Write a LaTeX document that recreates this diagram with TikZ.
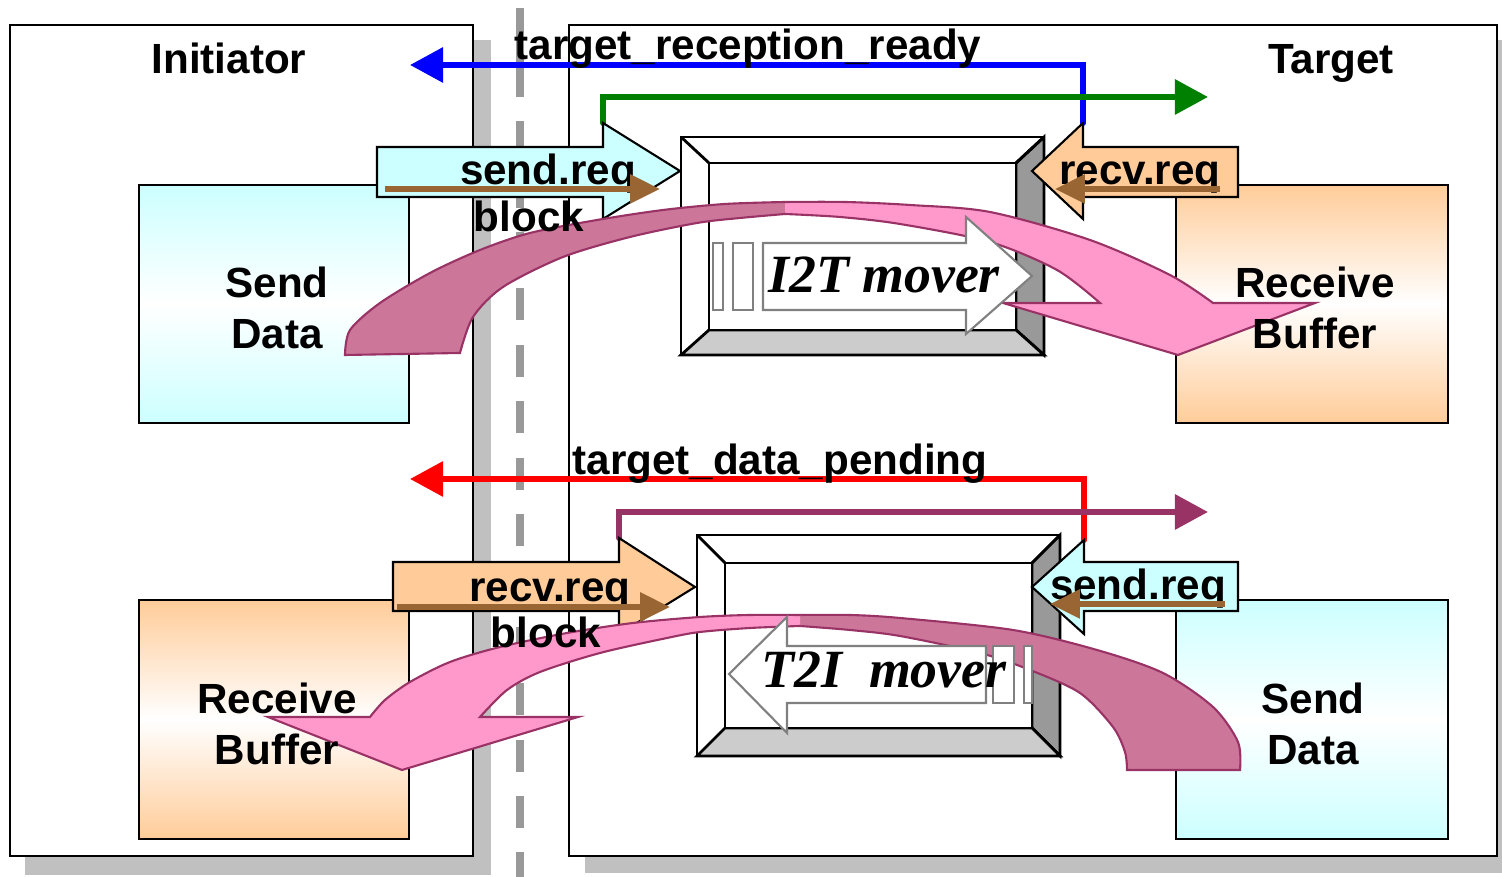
\documentclass[tikz,border=0pt]{standalone}
\usepackage{fontspec}
\setmainfont{Liberation Sans}
\newfontfamily\moverfont{Liberation Serif}
\usetikzlibrary{arrows.meta}

\definecolor{cyanfill}{HTML}{CCFFFF}
\definecolor{peachfill}{HTML}{FFCC99}
\definecolor{brownarr}{HTML}{996633}
\definecolor{pinklight}{HTML}{FF99CC}
\definecolor{pinkdark}{HTML}{CC7799}
\definecolor{pinkline}{HTML}{993366}
\definecolor{shadowgray}{HTML}{C0C0C0}
\definecolor{bevelgray}{HTML}{999999}
\definecolor{bevellight}{HTML}{CCCCCC}
\definecolor{movergray}{HTML}{808080}
\definecolor{siggreen}{HTML}{008000}
\definecolor{sigpurple}{HTML}{993366}

\begin{document}
\begin{tikzpicture}[x=0.01cm, y=-0.01cm,
  lbl/.style={font=\fontsize{12}{14.5}\selectfont\bfseries, inner sep=0pt},
  movertxt/.style={font=\moverfont\fontsize{15.3}{18}\selectfont\bfseries\itshape, inner sep=0pt},
  panel/.style={draw=black, fill=white, line width=0.7pt},
  panelshadow/.style={fill=shadowgray},
  centerline/.style={draw=bevelgray, line width=2.3pt},
  bevel/.style={draw=black, line width=0.8pt, line join=miter},
  reqarrow/.style={draw=black, line width=0.6pt},
  sigline/.style={line width=1.7pt, line cap=round, -{Triangle[length=9.4pt,width=9.7pt]}},
  brownline/.style={draw=brownarr, line width=1.5pt, -{Triangle[length=8.5pt,width=8pt]}},
  moverarrow/.style={draw=movergray, fill=white, line width=0.6pt},
  pinkband/.style={draw=pinkline, line width=0.6pt},
  cyanbox/.style={draw=black, line width=0.6pt, top color=cyanfill, bottom color=cyanfill, middle color=white},
  peachbox/.style={draw=black, line width=0.6pt, top color=peachfill, bottom color=peachfill, middle color=white}]
\useasboundingbox (0,0) rectangle (1502,877);

% Shadows and the dividing line
\fill[panelshadow] (25,40) rectangle (491,875);
\fill[panelshadow] (585,40) rectangle (1502,873);
\draw[centerline] (520,8) -- (520,97);
\draw[centerline] (520,121) -- (520,208);
\draw[centerline, dash pattern=on 9.1pt off 6.94pt] (520,232) -- (520,877);

% Initiator and target panels
\draw[panel] (10,25) rectangle (473,856);
\draw[panel] (569,25) rectangle (1497,856);
\node[lbl, anchor=base] (initlbl) at (229,74) {Initiator};
\node[lbl, anchor=base] (targlbl) at (1331,74) {Target};

% Buffers
\draw[cyanbox] (139,185) rectangle (409,423);
\draw[peachbox] (1176,185) rectangle (1448,423);
\draw[peachbox] (139,600) rectangle (409,839);
\draw[cyanbox] (1176,600) rectangle (1448,839);

% I2T mover frame
\draw[bevel, fill=white] (681,137) rectangle (1044,355);
\draw[bevel, fill=bevelgray] (1044,137) -- (1044,355) -- (1016,330) -- (1016,163) -- cycle;
\draw[bevel, fill=bevellight] (681,355) -- (1044,355) -- (1016,330) -- (709,330) -- cycle;
\draw[bevel] (681,137) -- (709,163) (1044,137) -- (1016,163);
\draw[bevel, fill=white] (709,163) rectangle (1016,330);

% T2I mover frame
\draw[bevel, fill=white] (697,535) rectangle (1060,756);
\draw[bevel, fill=bevelgray] (1060,535) -- (1060,756) -- (1032,728) -- (1032,563) -- cycle;
\draw[bevel, fill=bevellight] (697,756) -- (1060,756) -- (1032,728) -- (725,728) -- cycle;
\draw[bevel] (697,535) -- (725,563) (1060,535) -- (1032,563);
\draw[bevel, fill=white] (725,563) rectangle (1032,728);

% Handshake lines
\coordinate (sreqhd) at (603,123);
\coordinate (rreqhd) at (1083,123);
\coordinate (rreqbhd) at (619,538);
\coordinate (sreqbhd) at (1084,540);
\coordinate (readyend) at (410,65);
\coordinate (sendend) at (1208,97);
\coordinate (pendend) at (410,479);
\coordinate (recvend) at (1208,512);
\draw[sigline, blue] (rreqhd) |- (readyend);
\draw[sigline, siggreen] (sreqhd) |- (sendend);
\draw[sigline, red] (sreqbhd) |- (pendend);
\draw[sigline, sigpurple] (rreqbhd) |- (recvend);
\node[lbl, anchor=base] (readylbl) at (748,60) {target\_reception\_ready};
\node[lbl, anchor=base] (pendlbl) at (780,475) {target\_data\_pending};

% Request arrows
\draw[reqarrow, fill=cyanfill] (377,147) -- (603,147) -- (sreqhd) -- (680,171) -- (603,219) -- (603,197) -- (377,197) -- cycle;
\draw[reqarrow, fill=peachfill] (1238,147) -- (1083,147) -- (rreqhd) -- (1032,171) -- (1083,219) -- (1083,197) -- (1238,197) -- cycle;
\draw[reqarrow, fill=peachfill] (393,562) -- (619,562) -- (rreqbhd) -- (695,587) -- (619,634) -- (619,611) -- (393,611) -- cycle;
\draw[reqarrow, fill=cyanfill] (1238,562) -- (1084,562) -- (sreqbhd) -- (1032,587) -- (1084,634) -- (1084,611) -- (1238,611) -- cycle;
\node[lbl, anchor=base] (sreqlbl) at (548,185) {send.req};
\node[lbl, anchor=base] (rreqlbl) at (1140,185) {recv.req};
\node[lbl, anchor=base] (rreqblbl) at (550,602) {recv.req};
\node[lbl, anchor=base] (sreqblbl) at (1138,600) {send.req};

% Data transfer (top)
\path[fill=pinkdark] plot[smooth] coordinates {(785,214) (740,218) (697,223) (630,237) (563,257) (503,287) (473,317) (460,353)} -- (345,355) -- plot[smooth] coordinates {(345,355) (350,330) (380,303) (430,273) (480,250) (530,233) (597,220) (663,210) (725,204) (785,202)};
\draw[pinkband] plot[smooth] coordinates {(785,214) (740,218) (697,223) (630,237) (563,257) (503,287) (473,317) (460,353)} -- (345,355) -- plot[smooth] coordinates {(345,355) (350,330) (380,303) (430,273) (480,250) (530,233) (597,220) (663,210) (725,204) (785,202)};
\path[fill=pinklight] plot[smooth] coordinates {(785,202) (845,202) (910,205) (990,212) (1090,240) (1170,275) (1213,303)} -- (1315,303) -- (1178,355) -- (1003,303) -- plot[smooth] coordinates {(1100,303) (1057,270) (990,242) (900,224) (840,217) (785,214)};
\draw[pinkband] plot[smooth] coordinates {(785,202) (845,202) (910,205) (990,212) (1090,240) (1170,275) (1213,303)} -- (1315,303) -- (1178,355) -- (1003,303) -- plot[smooth] coordinates {(1100,303) (1057,270) (990,242) (900,224) (840,217) (785,214)};

% Data transfer (bottom)
\path[fill=pinkdark] plot[smooth] coordinates {(800,626) (850,630) (900,636) (980,653) (1030,670) (1080,693) (1113,727) (1125,752) (1127,770)} -- (1240,770) -- plot[smooth] coordinates {(1240,770) (1238,742) (1213,707) (1163,673) (1097,650) (1013,630) (900,618) (850,615) (800,615)};
\draw[pinkband] plot[smooth] coordinates {(800,626) (850,630) (900,636) (980,653) (1030,670) (1080,693) (1113,727) (1125,752) (1127,770)} -- (1240,770) -- plot[smooth] coordinates {(1240,770) (1238,742) (1213,707) (1163,673) (1097,650) (1013,630) (900,618) (850,615) (800,615)};
\path[fill=pinklight] plot[smooth] coordinates {(800,615) (750,615) (700,617) (633,623) (567,633) (500,647) (450,662) (410,682) (385,700) (370,717)} -- (268,717) -- (402,770) -- (578,717) -- plot[smooth] coordinates {(480,717) (507,690) (540,672) (600,653) (667,638) (700,632) (750,628) (800,626)};
\draw[pinkband] plot[smooth] coordinates {(800,615) (750,615) (700,617) (633,623) (567,633) (500,647) (450,662) (410,682) (385,700) (370,717)} -- (268,717) -- (402,770) -- (578,717) -- plot[smooth] coordinates {(480,717) (507,690) (540,672) (600,653) (667,638) (700,632) (750,628) (800,626)};

% Blocking calls
\draw[brownline] (385,189) -- (660,189);
\draw[brownline] (1220,189) -- (1055,189);
\draw[brownline] (397,607) -- (670,607);
\draw[brownline] (1225,604) -- (1050,604);
\node[lbl, anchor=base] (blk1) at (529,232) {block};
\node[lbl, anchor=base] (blk2) at (546,648) {block};

% Movers
\draw[moverarrow] (713,243) rectangle (723,310);
\draw[moverarrow] (733,243) rectangle (753,310);
\draw[moverarrow] (763,243) -- (966,243) -- (966,217) -- (1032,276) -- (966,334) -- (966,310) -- (763,310) -- cycle;
\node[movertxt, anchor=base] (i2t) at (884,293) {I2T mover};
\draw[moverarrow] (993,646) rectangle (1014,703);
\draw[moverarrow] (1024,646) rectangle (1032,703);
\draw[moverarrow] (986,646) -- (787,646) -- (787,617) -- (729,674) -- (787,733) -- (787,703) -- (986,703) -- cycle;
\node[movertxt, anchor=base] (t2i) at (884,688) {T2I\ \ mover};

% Buffer labels
\node[lbl, align=center] (sdata1) at (277,308) {Send\\Data};
\node[lbl, align=center] (rbuf1) at (1315,308) {Receive\\Buffer};
\node[lbl, align=center] (rbuf2) at (277,724) {Receive\\Buffer};
\node[lbl, align=center] (sdata2) at (1313,724) {Send\\Data};
\end{tikzpicture}
\end{document}
